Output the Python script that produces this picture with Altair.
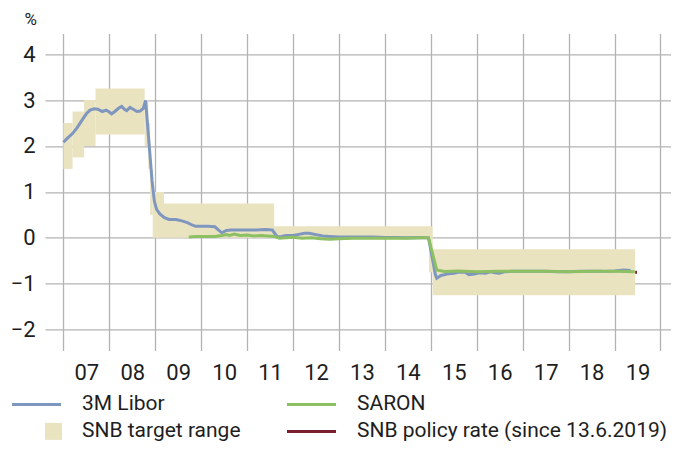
import altair as alt
import pandas as pd

# ---------------- data ----------------
libor_year = [2007.00, 2007.10, 2007.20, 2007.30, 2007.40, 2007.50, 2007.58, 2007.67, 2007.75, 2007.85,
              2007.93, 2008.00, 2008.05, 2008.12, 2008.20, 2008.27, 2008.33, 2008.38, 2008.45, 2008.52,
              2008.60, 2008.67, 2008.74, 2008.79, 2008.93, 2008.98, 2009.03, 2009.10, 2009.20, 2009.30,
              2009.45, 2009.58, 2009.70, 2009.80, 2009.88, 2010.00, 2010.15, 2010.30, 2010.38, 2010.45,
              2010.55, 2010.65, 2010.80, 2011.00, 2011.20, 2011.40, 2011.55, 2011.60, 2011.66, 2011.75,
              2011.85, 2012.00, 2012.10, 2012.25, 2012.35, 2012.50, 2012.65, 2012.80, 2013.00, 2013.25,
              2013.50, 2013.75, 2014.00, 2014.25, 2014.50, 2014.75, 2014.95, 2015.10, 2015.13, 2015.22,
              2015.35, 2015.50, 2015.60, 2015.75, 2015.83, 2015.95, 2016.05, 2016.19, 2016.30, 2016.40,
              2016.49, 2016.60, 2016.75, 2017.00, 2017.25, 2017.50, 2017.75, 2018.00, 2018.25, 2018.50,
              2018.75, 2019.00, 2019.20, 2019.35]
libor_val = [2.08, 2.18, 2.27, 2.40, 2.55, 2.70, 2.78, 2.81, 2.80, 2.75,
             2.78, 2.74, 2.70, 2.75, 2.82, 2.86, 2.80, 2.77, 2.84, 2.80,
             2.75, 2.76, 2.82, 2.99, 1.25, 0.80, 0.62, 0.52, 0.44, 0.40,
             0.40, 0.37, 0.33, 0.28, 0.25, 0.25, 0.25, 0.24, 0.17, 0.11,
             0.16, 0.17, 0.17, 0.17, 0.17, 0.18, 0.17, 0.10, 0.02, 0.03,
             0.05, 0.05, 0.07, 0.10, 0.10, 0.07, 0.04, 0.03, 0.02, 0.02,
             0.02, 0.02, 0.01, 0.01, 0.00, 0.01, 0.00, -0.80, -0.88, -0.82,
             -0.79, -0.77, -0.75, -0.75, -0.80, -0.79, -0.76, -0.77, -0.74, -0.76,
             -0.77, -0.74, -0.73, -0.73, -0.73, -0.73, -0.74, -0.74, -0.73, -0.73,
             -0.73, -0.72, -0.70, -0.71]

saron_year = [2009.73, 2009.90, 2010.10, 2010.30, 2010.45, 2010.55, 2010.62, 2010.72, 2010.85, 2011.00,
              2011.15, 2011.30, 2011.45, 2011.60, 2011.70, 2011.85, 2012.00, 2012.20, 2012.40, 2012.60,
              2012.80, 2013.00, 2013.30, 2013.60, 2013.90, 2014.20, 2014.50, 2014.80, 2014.95, 2015.13,
              2015.30, 2015.60, 2016.00, 2016.50, 2017.00, 2017.50, 2018.00, 2018.50, 2019.00, 2019.44]
saron_val = [0.02, 0.03, 0.03, 0.03, 0.05, 0.07, 0.05, 0.08, 0.05, 0.06,
             0.04, 0.05, 0.04, 0.03, -0.01, 0.00, 0.01, -0.01, 0.00, -0.02,
             -0.03, -0.02, -0.01, -0.01, -0.01, -0.01, -0.01, 0.00, 0.00, -0.70,
             -0.73, -0.72, -0.74, -0.73, -0.73, -0.73, -0.74, -0.73, -0.73, -0.74]

band_start = [2007.00, 2007.20, 2007.45, 2007.70, 2008.77, 2008.85, 2008.89, 2008.945, 2009.19, 2011.59, 2014.96, 2015.04]
band_end = [2007.20, 2007.45, 2007.70, 2008.77, 2008.85, 2008.89, 2008.945, 2009.19, 2011.59, 2014.96, 2015.04, 2019.45]
band_low = [1.50, 1.75, 2.00, 2.25, 2.00, 1.50, 0.50, 0.00, 0.00, 0.00, -0.75, -1.25]
band_high = [2.50, 2.75, 3.00, 3.25, 3.00, 2.50, 1.50, 1.00, 0.75, 0.25, 0.25, -0.25]

policy_year = [2019.45, 2019.49]
policy_val = [-0.75, -0.75]

year_ticks = list(range(2007, 2021))
y_ticks = [-2, -1, 0, 1, 2, 3, 4]

legend_labels = ["3M Libor", "SARON", "SNB target range", "SNB policy rate (since 13.6.2019)"]
legend_kind = ["line", "line", "square", "line"]
legend_col = [0, 1, 0, 1]
legend_row = [0, 0, 1, 1]

C_LIBOR = "#7f96be"
C_SARON = "#8cc063"
C_BAND = "#e9e3c0"
C_POLICY = "#7a1f30"
legend_colors = [C_LIBOR, C_SARON, C_BAND, C_POLICY]

FONT = "Roboto"
TXT = "#1e1e1e"
FS = 22
LFS = 21

libor = pd.DataFrame({"year": libor_year, "val": libor_val})
saron = pd.DataFrame({"year": saron_year, "val": saron_val})
band = pd.DataFrame({"x": band_start, "x2": band_end, "lo": band_low, "hi": band_high})
policy = pd.DataFrame({"year": policy_year, "val": policy_val})
leg = pd.DataFrame({"label": legend_labels, "kind": legend_kind, "col": legend_col,
                    "row": legend_row, "color": legend_colors})

W, H = 626, 317
xs = alt.Scale(domain=[2006.6, 2020.23], nice=False, zero=False)
ys = alt.Scale(domain=[-2.45, 4.45], nice=False, zero=False)
noview = alt.ViewBackground(stroke="transparent", strokeWidth=0, fill="white")

xaxis = alt.Axis(values=year_ticks, format="d",
                 labelExpr="datum.value == 2020 ? '' : substring(datum.label, 2, 4)",
                 labelOffset=23, ticks=False, domain=False, grid=True, title=None,
                 labelFontSize=FS, labelFont=FONT, labelFontWeight=400, labelColor=TXT,
                 labelPadding=12, gridColor="#b3b3b3", gridWidth=1.3)
yaxis = alt.Axis(values=y_ticks, ticks=False, domain=False, grid=True, title=None,
                 labelFontSize=FS, labelFont=FONT, labelFontWeight=400, labelColor=TXT,
                 labelPadding=10, gridColor="#b3b3b3", gridWidth=1.3)

bands = alt.Chart(band).mark_rect(color=C_BAND, opacity=1).encode(
    x=alt.X("x:Q", scale=xs, axis=xaxis),
    x2="x2:Q",
    y=alt.Y("lo:Q", scale=ys, axis=yaxis),
    y2="hi:Q",
)
libor_line = alt.Chart(libor).mark_line(color=C_LIBOR, strokeWidth=3).encode(
    x=alt.X("year:Q", scale=xs), y=alt.Y("val:Q", scale=ys))
saron_line = alt.Chart(saron).mark_line(color=C_SARON, strokeWidth=3).encode(
    x=alt.X("year:Q", scale=xs), y=alt.Y("val:Q", scale=ys))
policy_line = alt.Chart(policy).mark_line(color=C_POLICY, strokeWidth=3).encode(
    x=alt.X("year:Q", scale=xs), y=alt.Y("val:Q", scale=ys))

pct = alt.Chart(pd.DataFrame({"t": ["%"]})).mark_text(
    font=FONT, fontSize=17, fontWeight=400, color=TXT, align="right", baseline="alphabetic"
).encode(x=alt.value(-8), y=alt.value(-8), text="t:N")

main = alt.layer(bands, libor_line, saron_line, policy_line, pct).properties(
    width=W, height=H, view=noview)

# ---------------- legend ----------------
base = alt.Chart(leg).transform_calculate(
    lx="datum.col * 275",
    ly="datum.row * 27 + 21",
)
leg_lines = base.transform_filter("datum.kind == 'line'").transform_calculate(
    x1="datum.lx - 33", x2="datum.lx + 16"
).mark_rule(strokeWidth=3).encode(
    x=alt.X("x1:Q", scale=None, axis=None), x2="x2:Q",
    y=alt.Y("ly:Q", scale=None, axis=None),
    color=alt.Color("color:N", scale=None, legend=None),
)
leg_sq = base.transform_filter("datum.kind == 'square'").transform_calculate(
    sx="datum.lx + 8.5"
).mark_square(size=289, opacity=1).encode(
    x=alt.X("sx:Q", scale=None, axis=None),
    y=alt.Y("ly:Q", scale=None, axis=None),
    color=alt.Color("color:N", scale=None, legend=None),
)
leg_txt = base.transform_calculate(tx="datum.lx + 37").mark_text(
    align="left", baseline="middle", font=FONT, fontSize=LFS, fontWeight=400, color=TXT
).encode(
    x=alt.X("tx:Q", scale=None, axis=None),
    y=alt.Y("ly:Q", scale=None, axis=None),
    text="label:N",
)

legend = alt.layer(leg_lines, leg_sq, leg_txt).properties(width=W, height=40, view=noview)

chart = alt.vconcat(main, legend, spacing=0).properties(
    padding={"left": 2, "top": 3.4, "right": 0, "bottom": 0}
).configure_view(stroke="transparent", strokeWidth=0).configure(background="white")

chart.save("out.html", embed_options={"renderer": "svg", "actions": False})
